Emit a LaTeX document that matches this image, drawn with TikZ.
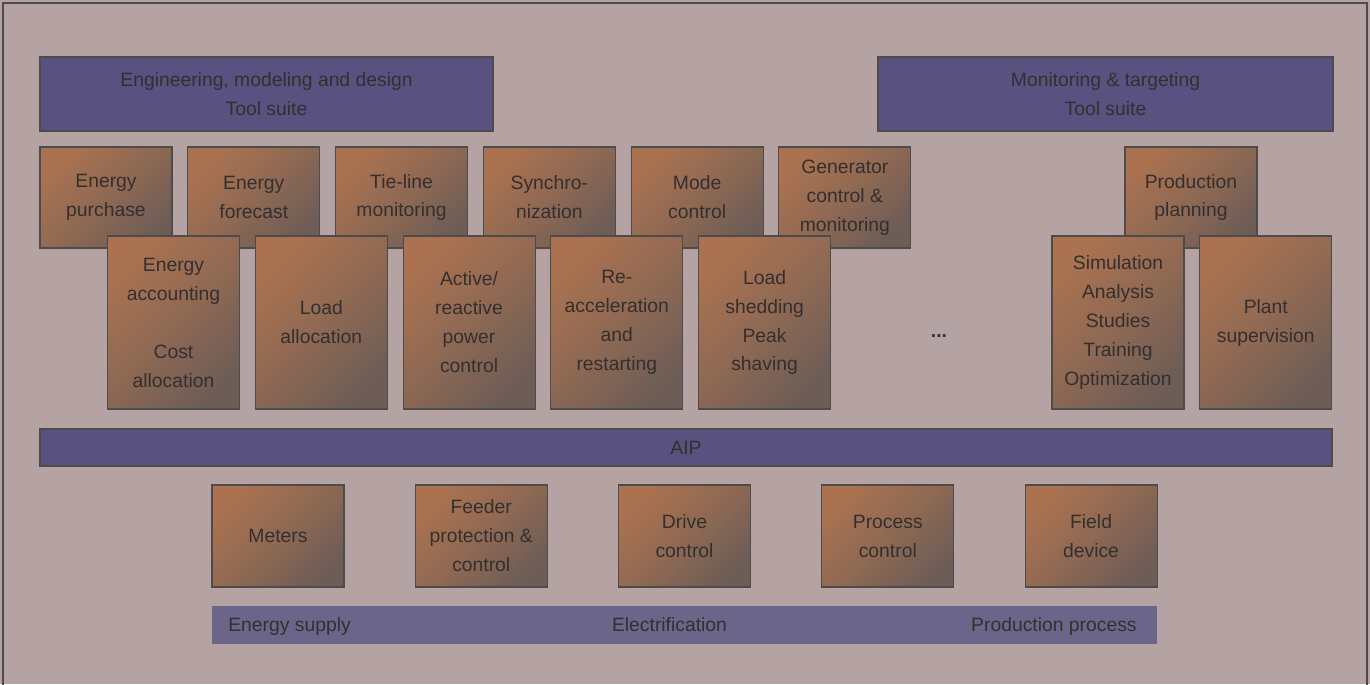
\documentclass[tikz,border=0pt]{standalone}
\usepackage{fontspec}
\setmainfont{Liberation Sans}
\usepackage{tikz}
\usetikzlibrary{positioning}
\usepackage{xcolor}

\definecolor{backdrop}{HTML}{B5A3A4}
\definecolor{suite}{HTML}{595180}
\definecolor{layer}{HTML}{6B6589}
\definecolor{edge}{HTML}{4E4C4A}
\definecolor{oralight}{HTML}{AA7250}
\definecolor{oramid}{HTML}{8F6953}
\definecolor{oradark}{HTML}{6E5D56}
\definecolor{ink}{HTML}{342F2F}

\begin{document}
\begin{tikzpicture}[x=0.02cm,y=-0.02cm,
  label/.style={text=ink, font=\fontsize{11}{16.5}\selectfont},
  suitebox/.style={rectangle, draw=edge, line width=0.8pt, fill=suite, label, align=center, inner sep=0pt},
  funcbox/.style={rectangle, draw=edge, line width=0.6pt, top color=oralight, bottom color=oradark, middle color=oramid, shading angle=45, label, align=center, inner sep=0pt, minimum width=2.64cm},
  upper/.style={funcbox, minimum height=2.02cm},
  lower/.style={funcbox, minimum height=3.46cm},
  field/.style={funcbox, minimum height=2.04cm}]
\useasboundingbox (0,0) rectangle (1370,684);
\fill [backdrop] (0,0) rectangle (1370,684);
\draw [edge, line width=1.2pt] (3,700) -- (3,3) -- (1367,3) -- (1367,700);

% tool suites
\node [suitebox, minimum width=9.06cm, minimum height=1.48cm] (eng) at (266.5,94) {Engineering, modeling and design\\Tool suite};
\node [suitebox, minimum width=9.10cm, minimum height=1.48cm] (mon) at (1105.5,94) {Monitoring \& targeting\\Tool suite};

% functions, back row
\node [upper] (purchase) at (106,197.5) {Energy\\purchase};
\node [upper, right=0.295cm of purchase] (forecast) {Energy\\forecast};
\node [upper, right=0.295cm of forecast] (tieline) {Tie-line\\monitoring};
\node [upper, right=0.295cm of tieline] (synchro) {Synchro-\\nization};
\node [upper, right=0.295cm of synchro] (mode) {Mode\\control};
\node [upper, right=0.295cm of mode] (generator) {Generator\\control \&\\monitoring};
\node [upper] (planning) at (1191,197.5) {Production\\planning};

% functions, front row
\node [lower] (accounting) at (173.5,322.5) {Energy\\accounting\\[16.5pt]Cost\\allocation};
\node [lower, right=0.295cm of accounting] (loadalloc) {Load\\allocation};
\node [lower, right=0.295cm of loadalloc] (active) {Active/\\reactive\\power\\control};
\node [lower, right=0.295cm of active] (reaccel) {Re-\\acceleration\\and\\restarting};
\node [lower, right=0.295cm of reaccel] (shedding) {Load\\shedding\\Peak\\shaving};
\node [label, font=\fontsize{11}{16.5}\bfseries] (more) at (939,336) {...};
\node [lower] (simulation) at (1118,322.5) {Simulation\\Analysis\\Studies\\Training\\Optimization};
\node [lower, right=0.295cm of simulation] (plant) {Plant\\supervision};

% AIP
\node [suitebox, minimum width=25.84cm, minimum height=0.74cm] (aip) at (686,447.5) {AIP};

% devices
\node [field] (meters) at (278,536) {Meters};
\node [field, right=1.405cm of meters] (feeder) {Feeder\\protection \&\\control};
\node [field, right=1.405cm of feeder] (drive) {Drive\\control};
\node [field, right=1.405cm of drive] (process) {Process\\control};
\node [field, right=1.405cm of process] (device) {Field\\device};

% processes
\node [rectangle, fill=layer, minimum width=18.9cm, minimum height=0.76cm, inner sep=0pt] (plantbar) at (684.5,625) {};
\node [label, inner sep=0pt, anchor=base west] (supply) at (228,631) {Energy supply};
\node [label, inner sep=0pt, anchor=base] (electro) at (669.5,631) {Electrification};
\node [label, inner sep=0pt, anchor=base east] (production) at (1137,631) {Production process};
\end{tikzpicture}
\end{document}
